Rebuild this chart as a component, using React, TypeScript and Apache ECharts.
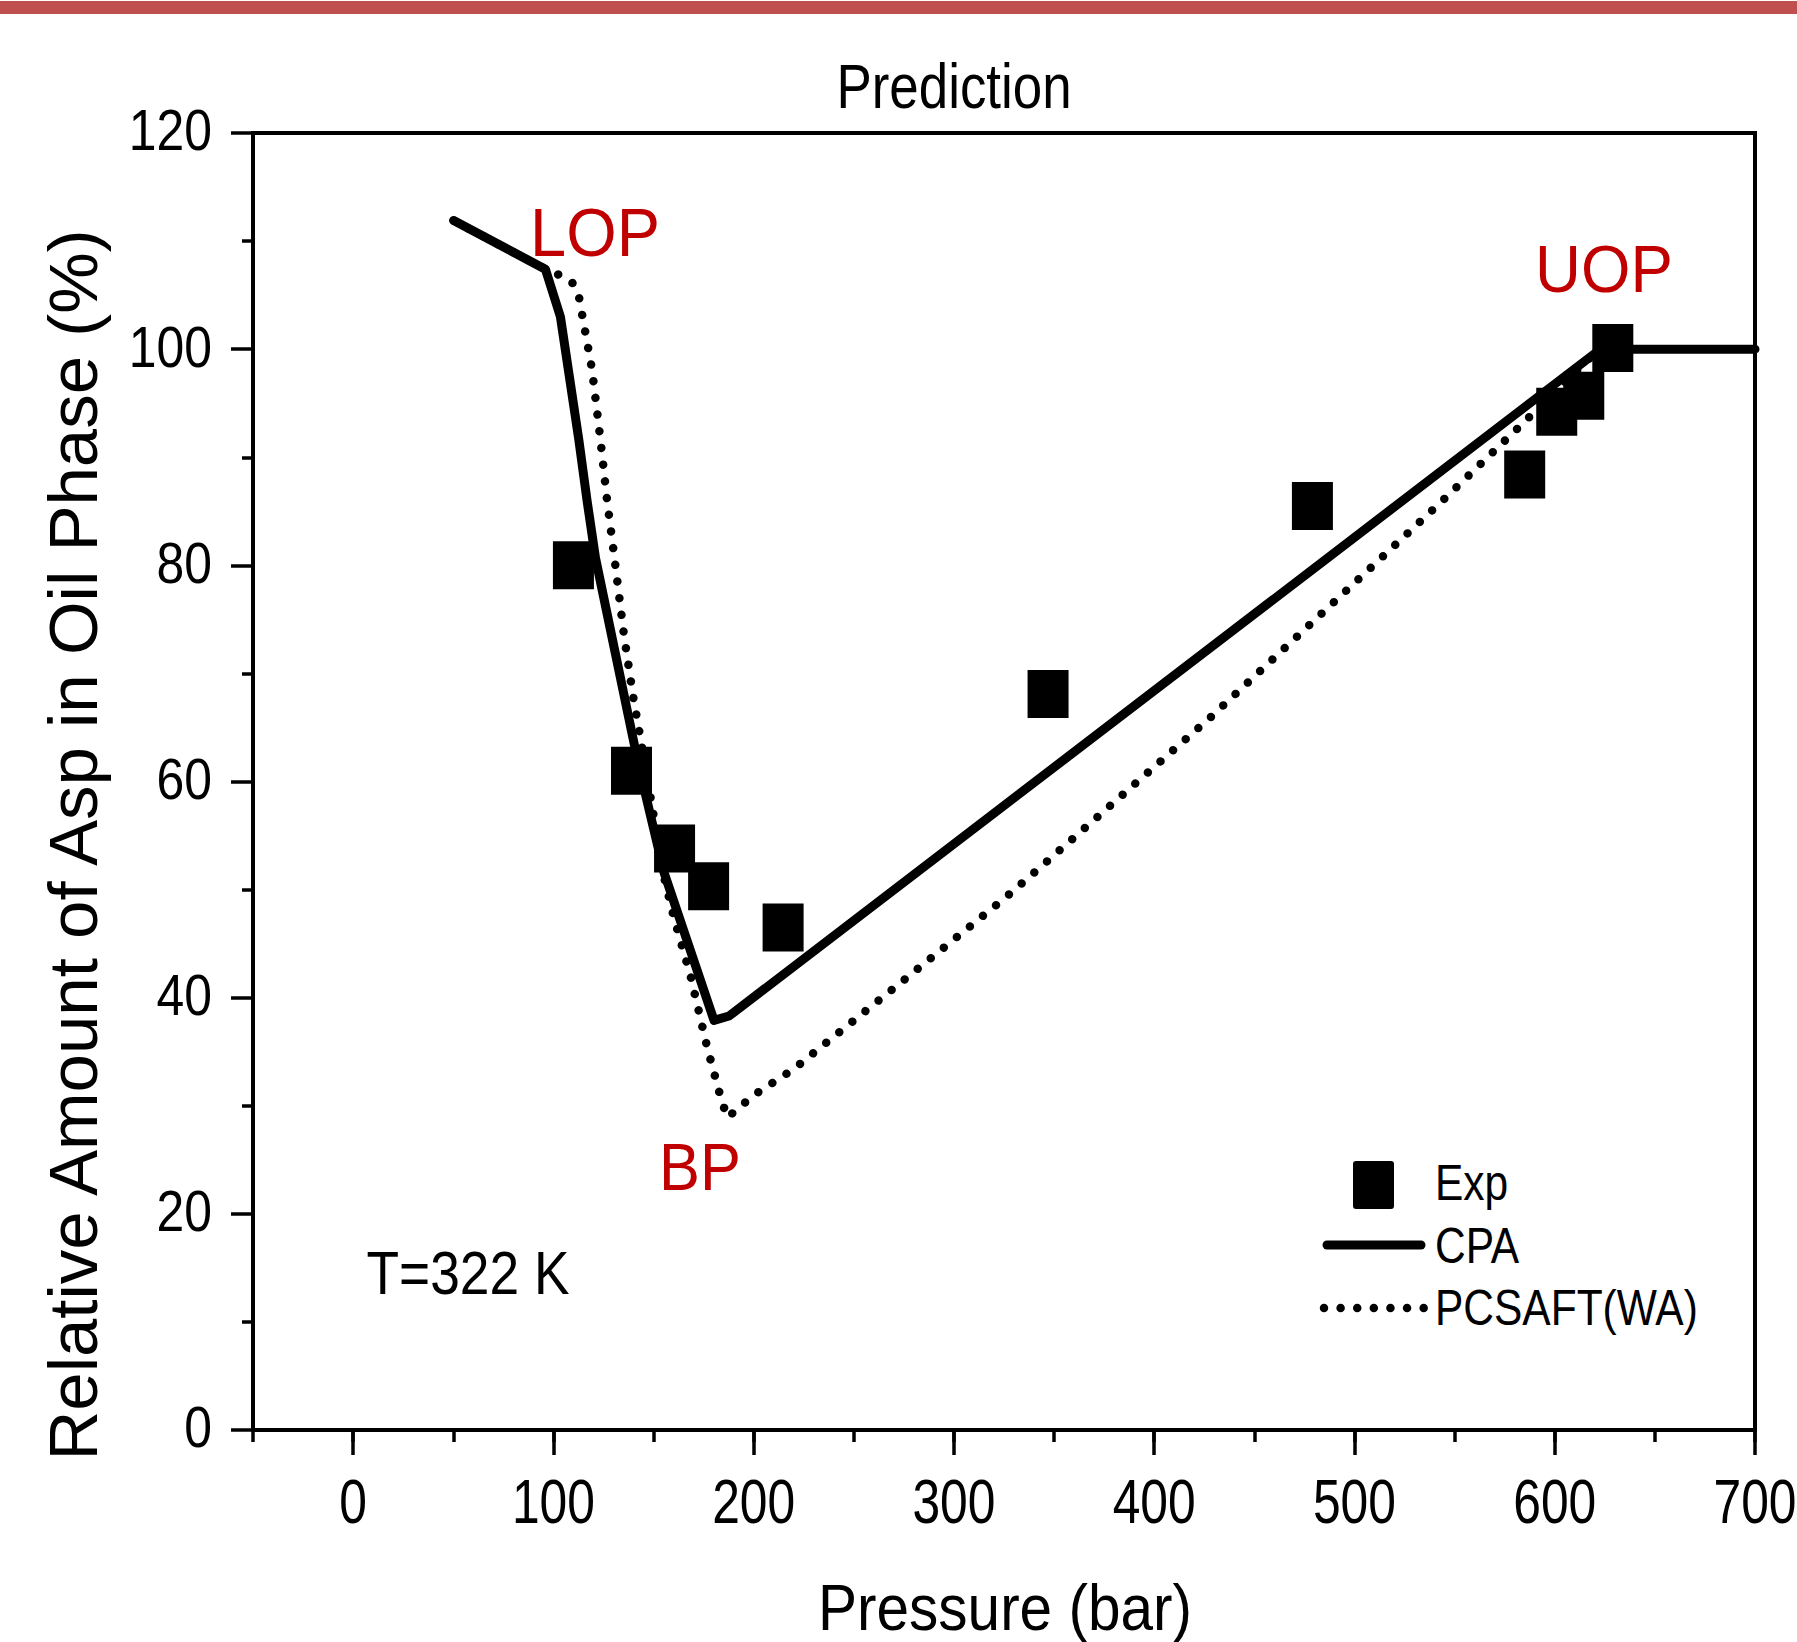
import React, { useEffect, useRef } from "react";
import * as echarts from "echarts";

// ---------- data ----------
const expPressure = [110, 139, 160.5, 177.5, 214.7, 347, 479, 585, 601, 614.5, 629];
const expAsp = [80.0, 61.0, 53.8, 50.3, 46.5, 68.1, 85.5, 88.4, 94.2, 95.7, 100.1];

const cpaPressure = [50.2, 96, 103.5, 112.7, 116.8, 121, 140.2, 146, 155.2, 180.2, 187.7, 620, 627, 700];
const cpaAsp = [111.9, 107.4, 103.0, 91.6, 86.0, 80.7, 63.6, 58.8, 51.6, 37.9, 38.3, 99.6, 100, 100];

const pcsaftPressure = [50.2, 96, 101.5, 109.3, 112.7, 116, 119.3, 123.5, 126.8, 130.2, 135.2, 140.2, 143.5, 155.2, 160.2, 168.5, 176.8, 183.5, 186.8, 200.2, 220, 273.5, 326, 345.2, 428.5, 541.8, 585, 622];
const pcsaftAsp = [111.9, 107.4, 107.0, 106.2, 104.9, 101.5, 98.1, 91.6, 86.0, 81.1, 73.6, 67.4, 64.0, 51.2, 47.4, 42.0, 35.4, 30.8, 28.9, 31.0, 33.4, 41.4, 49.3, 52.4, 66.0, 85.6, 93.3, 100];

const xTickLabels = [0, 100, 200, 300, 400, 500, 600, 700];
const yTickLabels = [0, 20, 40, 60, 80, 100, 120];
const legendNames = ["Exp", "CPA", "PCSAFT(WA)"];

const zip = (a: number[], b: number[]) => a.map((v, i) => [v, b[i]]);

const SANS = '"Liberation Sans", Arial, sans-serif';

function txt(text: string, x: number, y: number, size: number, sx: number, opts: any = {}) {
  const align = opts.align || "center";
  return {
    type: "text",
    x,
    y,
    scaleX: sx,
    rotation: opts.rotation || 0,
    z: 100,
    silent: true,
    style: {
      text,
      fontSize: size,
      fontFamily: SANS,
      fill: opts.color || "#000",
      textAlign: align,
      align,
      textVerticalAlign: "middle",
      verticalAlign: "middle",
    },
  };
}

export default function App() {
  const ref = useRef<HTMLDivElement>(null);

  useEffect(() => {
    document.body.style.margin = "0";
    if (!ref.current) return;
    const chart = echarts.init(ref.current, undefined, { renderer: "svg" });

    const axisColor = "#000";
    const option: any = {
      animation: false,
      backgroundColor: "#fff",
      grid: {
        left: 253,
        top: 133,
        width: 1502,
        height: 1297,
        show: true,
        borderColor: axisColor,
        borderWidth: 4,
        backgroundColor: "transparent",
        outerBoundsMode: "none",
        containLabel: false,
      },
      xAxis: [
        {
          type: "value",
          min: -50,
          max: 700,
          position: "bottom",
          axisLine: { show: true, onZero: false, lineStyle: { color: axisColor, width: 4 } },
          axisTick: { show: true, customValues: xTickLabels, length: 25, lineStyle: { color: axisColor, width: 3.5 } },
          axisLabel: { show: false },
          splitLine: { show: false },
        },
        {
          type: "value",
          min: -50,
          max: 700,
          interval: 50,
          position: "bottom",
          axisLine: { show: false },
          axisTick: { show: true, length: 12, lineStyle: { color: axisColor, width: 3.5 } },
          axisLabel: { show: false },
          splitLine: { show: false },
        },
      ],
      yAxis: {
        type: "value",
        min: 0,
        max: 120,
        interval: 20,
        axisLine: { show: true, onZero: false, lineStyle: { color: axisColor, width: 4 } },
        axisTick: { show: true, length: 22, lineStyle: { color: axisColor, width: 3.5 } },
        minorTick: { show: true, splitNumber: 2, length: 11, lineStyle: { color: axisColor, width: 3.5 } },
        axisLabel: { show: false },
        splitLine: { show: false },
        minorSplitLine: { show: false },
      },
      series: [
        {
          name: legendNames[1],
          type: "line",
          data: zip(cpaPressure, cpaAsp),
          symbol: "none",
          silent: true,
          z: 2,
          lineStyle: { color: "#000", width: 9, cap: "round", join: "round" },
        },
        {
          name: legendNames[2],
          type: "line",
          data: zip(pcsaftPressure, pcsaftAsp),
          symbol: "none",
          silent: true,
          z: 2,
          lineStyle: { color: "#000", width: 8.5, type: [0.01, 16.8], cap: "round", join: "round" },
        },
        {
          name: legendNames[0],
          type: "scatter",
          data: zip(expPressure, expAsp),
          symbol: "rect",
          symbolSize: [41, 48],
          silent: true,
          z: 3,
          itemStyle: { color: "#000", opacity: 1 },
        },
      ],
    };

    chart.setOption(option);

    // tick labels positioned through the axes' own scales
    const yZero = chart.convertToPixel({ yAxisIndex: 0 }, 0) as number;
    const xAxisLeft = chart.convertToPixel({ xAxisIndex: 0 }, -50) as number;
    const xLabels = xTickLabels.map((v) =>
      txt(String(v), chart.convertToPixel({ xAxisIndex: 0 }, v) as number, yZero + 71, 63, 0.79)
    );
    const yLabels = yTickLabels.map((v) =>
      txt(String(v), xAxisLeft - 41, (chart.convertToPixel({ yAxisIndex: 0 }, v) as number) - 3, 58, 0.86, { align: "right" })
    );

    chart.setOption({
      graphic: [
        { type: "rect", shape: { x: 0, y: 1, width: 1797, height: 13 }, style: { fill: "#C0504D" }, z: 100, silent: true },
        txt("Prediction", 954, 86, 63, 0.84),
        txt("LOP", 595, 232, 69, 0.94, { color: "#C00000" }),
        txt("UOP", 1604, 269, 67, 0.95, { color: "#C00000" }),
        txt("BP", 700, 1167, 66, 0.93, { color: "#C00000" }),
        txt("T=322 K", 468, 1273, 62, 0.86),
        txt("Pressure (bar)", 1005, 1607, 65, 0.9),
        txt("Relative Amount of Asp in Oil Phase (%)", 73, 845, 69, 1.0, { rotation: Math.PI / 2 }),
        ...xLabels,
        ...yLabels,
        // legend
        { type: "rect", shape: { x: 1353, y: 1161, width: 41, height: 48, r: 3 }, style: { fill: "#000" }, z: 100, silent: true },
        txt(legendNames[0], 1435, 1183, 50, 0.85, { align: "left" }),
        { type: "line", shape: { x1: 1327, y1: 1245, x2: 1421, y2: 1245 }, style: { stroke: "#000", lineWidth: 9, lineCap: "round" }, z: 100, silent: true },
        txt(legendNames[1], 1435, 1246, 50, 0.85, { align: "left" }),
        { type: "line", shape: { x1: 1324, y1: 1308, x2: 1424, y2: 1308 }, style: { stroke: "#000", lineWidth: 8.5, lineCap: "round", lineDash: [0.01, 16.6] }, z: 100, silent: true },
        txt(legendNames[2], 1435, 1308, 50, 0.85, { align: "left" }),
      ],
    });
    return () => chart.dispose();
  }, []);

  return <div ref={ref} style={{ width: 1797, height: 1642 }} />;
}
